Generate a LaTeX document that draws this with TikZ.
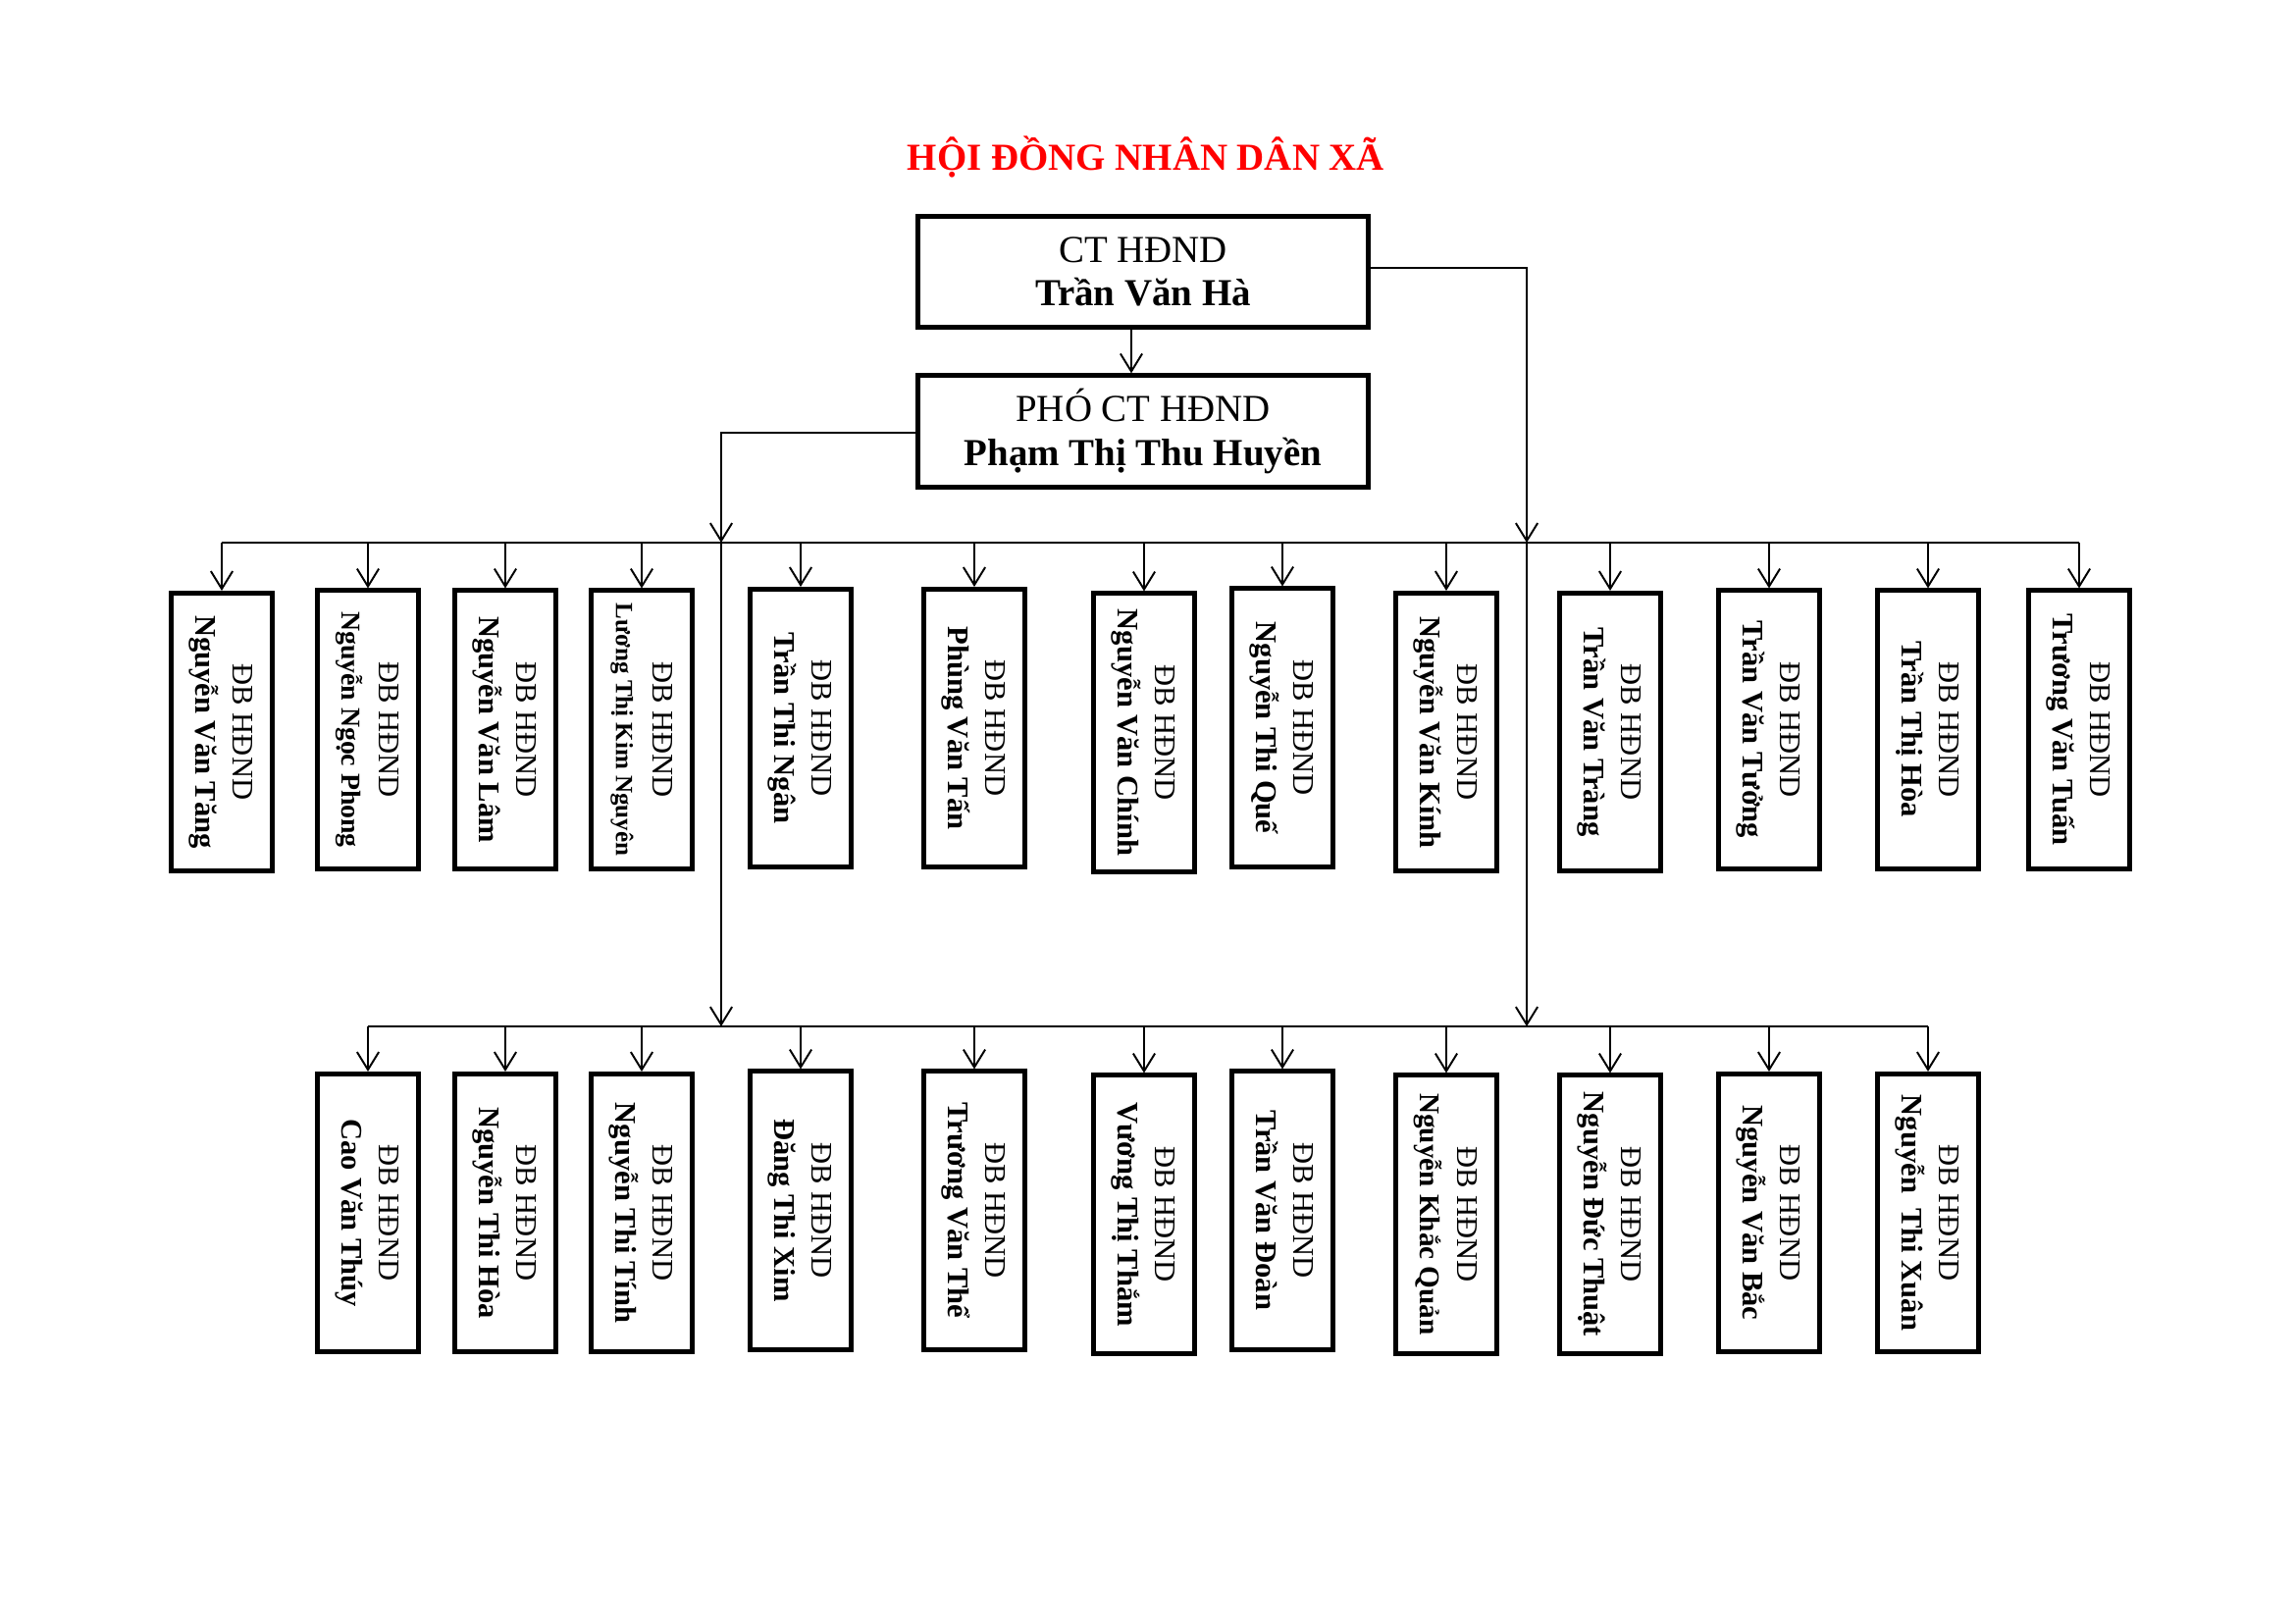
\documentclass[tikz,border=0pt]{standalone}
\usepackage{graphicx}
\usepackage{fontspec}
\setmainfont{Liberation Serif}
\usetikzlibrary{arrows.meta,calc}
\newcommand\mydb[2][11]{\rotatebox{-90}{\begin{tabular}{@{}c@{}}ĐB HĐND\\\fontsize{#1}{13}\selectfont\bfseries #2\end{tabular}}}
\begin{document}
\begin{tikzpicture}[x=0.36pt,y=-0.36pt,
  topbox/.style={draw, line width=1.8pt, inner sep=0pt, minimum width=165.2pt, minimum height=40.8pt, align=center, font=\fontsize{14}{16}\selectfont},
  dbbox/.style={draw, line width=1.8pt, inner sep=0pt, minimum width=37.1pt, minimum height=101.9pt, font=\fontsize{11}{13.5}\selectfont},
  conn/.style={line width=0.7pt},
  arr/.style={conn, -{Straight Barb[length=6.5pt,width=8pt]}}]
\useasboundingbox (0,0) rectangle (2339,1654);
% title
\node[font=\fontsize{14}{16}\selectfont\bfseries, text=red, anchor=base] (title) at (1168,173) {HỘI ĐỒNG NHÂN DÂN XÃ};
% top boxes
\node[topbox] (ct) at (1165,277) {CT HĐND\\\textbf{Trần Văn Hà}};
\node[topbox] (pho) at (1165,439.5) {PHÓ CT HĐND\\\textbf{Phạm Thị Thu Huyền}};
% first row
\node[dbbox] (t1) at (226,746) {\mydb{Nguyễn Văn Tăng}};
\node[dbbox] (t2) at (375,743.5) {\mydb[10]{Nguyễn Ngọc Phong}};
\node[dbbox] (t3) at (515,743.5) {\mydb{Nguyễn Văn Lâm}};
\node[dbbox] (t4) at (654,743.5) {\mydb[9]{Lương Thị Kim Nguyên}};
\node[dbbox] (t5) at (816,742) {\mydb{Trần Thi Ngân}};
\node[dbbox] (t6) at (993,742) {\mydb{Phùng Văn Tấn}};
\node[dbbox] (t7) at (1166,746.5) {\mydb{Nguyễn Văn Chính}};
\node[dbbox] (t8) at (1307,741.5) {\mydb{Nguyễn Thi Quế}};
\node[dbbox] (t9) at (1474,746) {\mydb{Nguyễn Văn Kính}};
\node[dbbox] (t10) at (1641,746) {\mydb{Trần Văn Tràng}};
\node[dbbox] (t11) at (1803,743.5) {\mydb{Trần Văn Tưởng}};
\node[dbbox] (t12) at (1965,743.5) {\mydb{Trần Thị Hòa}};
\node[dbbox] (t13) at (2119,743.5) {\mydb{Trương Văn Tuấn}};
% second row
\node[dbbox] (b1) at (375,1236) {\mydb{Cao Văn Thúy}};
\node[dbbox] (b2) at (515,1236) {\mydb{Nguyễn Thi Hòa}};
\node[dbbox] (b3) at (654,1236) {\mydb{Nguyễn Thi Tính}};
\node[dbbox] (b4) at (816,1233.5) {\mydb{Đăng Thi Xim}};
\node[dbbox] (b5) at (993,1233.5) {\mydb{Trương Văn Thể}};
\node[dbbox] (b6) at (1166,1237.5) {\mydb{Vương Thị Thắm}};
\node[dbbox] (b7) at (1307,1233.5) {\mydb{Trần Văn Đoàn}};
\node[dbbox] (b8) at (1474,1237.5) {\mydb[10.5]{Nguyễn Khắc Quản}};
\node[dbbox] (b9) at (1641,1237.5) {\mydb{Nguyễn Đức Thuật}};
\node[dbbox] (b10) at (1803,1236) {\mydb{Nguyễn Văn Bắc}};
\node[dbbox] (b11) at (1965,1236) {\mydb{Nguyễn \ Thi Xuân}};
% bars and joints
\coordinate (tbar) at (0,553);
\coordinate (bbar) at (0,1046);
\coordinate (rj) at (1556,273);
\coordinate (lj) at (735,441);
\coordinate (ax) at (1153,0);
\draw[conn] (t1.north |- tbar) -- (t13.north |- tbar);
\draw[conn] (b1.north |- bbar) -- (b11.north |- bbar);
\foreach \n in {1,...,13} \draw[arr] (t\n.north |- tbar) -- (t\n.north);
\foreach \n in {1,...,11} \draw[arr] (b\n.north |- bbar) -- (b\n.north);
% main connectors
\draw[arr] (ct.south -| ax) -- (pho.north -| ax);
\draw[arr] (ct.east |- rj) -- (rj) -- (rj |- tbar);
\draw[arr] (pho.west |- lj) -- (lj) -- (lj |- tbar);
\draw[arr] (lj |- tbar) -- (lj |- bbar);
\draw[arr] (rj |- tbar) -- (rj |- bbar);
\end{tikzpicture}
\end{document}
